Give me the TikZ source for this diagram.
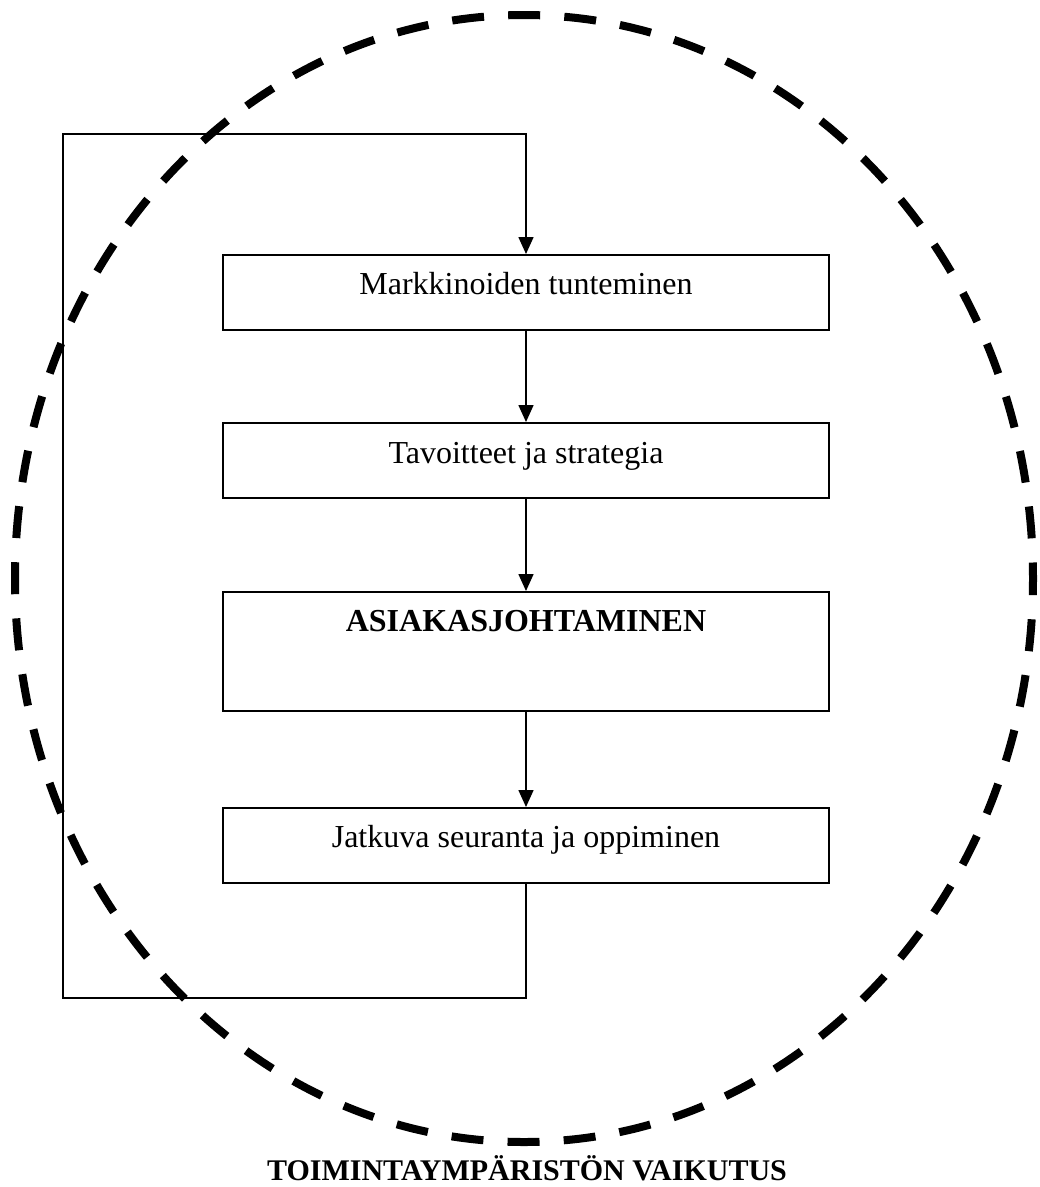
\documentclass[tikz,border=0pt]{standalone}
\usepackage{fontspec}
\setmainfont{Liberation Serif}
\usetikzlibrary{arrows.meta}
\begin{document}
\begin{tikzpicture}[x=1pt,y=-1pt,
  box/.style={draw, line width=1.7pt, minimum width=606pt, inner sep=0pt, anchor=north, fill=white},
  lbl/.style={font=\fontsize{32}{38}\selectfont, anchor=base, inner sep=0pt},
  conn/.style={line width=1.6pt, -{Triangle[width=15pt,length=17pt]}},
  fb/.style={line width=1.6pt},
  env/.style={line width=8pt, dash pattern=on 32pt off 24.19pt, dash phase=16pt}
]
\useasboundingbox (0,0) rectangle (1040,1187);

% boxes
\node[box, minimum height=75pt] (b1) at (526,254) {};
\node[box, minimum height=75pt] (b2) at (526,422) {};
\node[box, minimum height=119pt] (b3) at (526,591) {};
\node[box, minimum height=75pt] (b4) at (526,807) {};

% labels
\node[lbl] (t1) at (526,294) {Markkinoiden tunteminen};
\node[lbl] (t2) at (526,463) {Tavoitteet ja strategia};
\node[lbl, font=\fontsize{32}{38}\selectfont\bfseries] (t3) at (526,631) {ASIAKASJOHTAMINEN};
\node[lbl] (t4) at (526,847) {Jatkuva seuranta ja oppiminen};

% connectors
\draw[conn] (b1.south) -- (b2.north);
\draw[conn] (b2.south) -- (b3.north);
\draw[conn] (b3.south) -- (b4.north);

% feedback loop
\coordinate (fbBR) at (526,998);
\coordinate (fbBL) at (63,998);
\coordinate (fbTL) at (63,134);
\coordinate (fbTR) at (526,134);
\draw[conn] (b4.south) -- (fbBR) -- (fbBL) -- (fbTL) -- (fbTR) -- (b1.north);

% environment ellipse
\draw[env] (524,578.5) ellipse [x radius=509pt, y radius=563.5pt];

% caption
\node[font=\fontsize{30}{36}\selectfont\bfseries, anchor=base, inner sep=0pt] (cap) at (527,1180) {TOIMINTAYMPÄRISTÖN VAIKUTUS};
\end{tikzpicture}
\end{document}
